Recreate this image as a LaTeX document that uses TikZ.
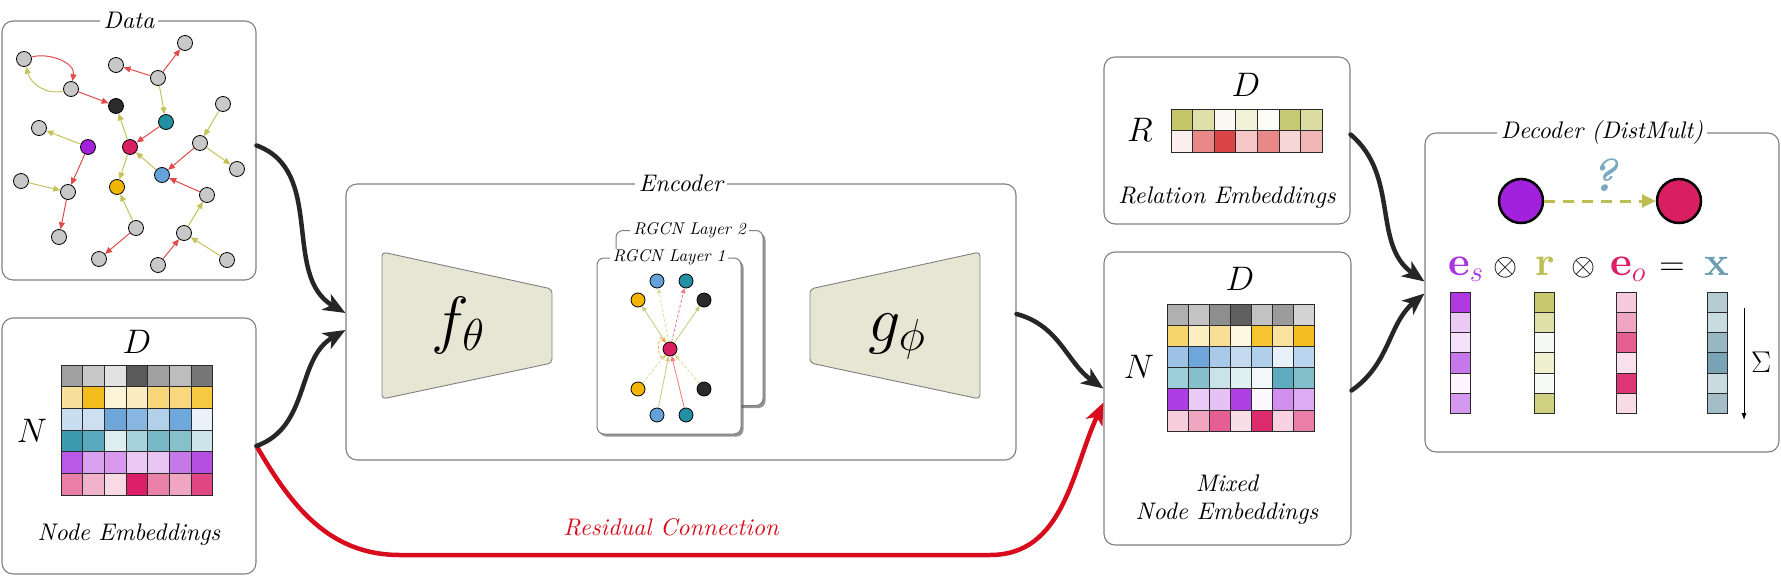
\RequirePackage{fix-cm}
\documentclass[tikz,border=0pt]{standalone}
\usepackage{amsmath}
\usepackage{fontspec}
\setmainfont{lmroman10-regular.otf}[ItalicFont=lmroman10-italic.otf, BoldFont=lmroman10-bold.otf, BoldItalicFont=lmroman10-bolditalic.otf]
\usetikzlibrary{arrows.meta,shadows,calc}

\definecolor{boxgray}{HTML}{7F7F7F}
\definecolor{cellline}{HTML}{2A2A2A}
\definecolor{trapfill}{HTML}{E5E6D3}
\definecolor{arrowblack}{HTML}{262626}
\definecolor{resred}{HTML}{D80C1C}
\definecolor{edgered}{HTML}{E04B4B}
\definecolor{edgeolive}{HTML}{C3C35A}
\definecolor{ngray}{HTML}{C8C8C8}
\definecolor{nblack}{HTML}{2B2B2B}
\definecolor{nteal}{HTML}{228FA2}
\definecolor{npurple}{HTML}{A221DC}
\definecolor{ncrimson}{HTML}{D91E62}
\definecolor{nblue}{HTML}{64A3DA}
\definecolor{nyellow}{HTML}{F2B600}
\definecolor{eqpurple}{HTML}{A834E2}
\definecolor{eqolive}{HTML}{BDBE52}
\definecolor{eqcrimson}{HTML}{DC1F64}
\definecolor{eqsteel}{HTML}{6F9DB0}
\definecolor{qblue}{HTML}{7AA8BE}
\definecolor{loopor}{HTML}{F4A53C}
\definecolor{inolive}{HTML}{C9C97E}
\definecolor{inolivel}{HTML}{DCDC96}
\definecolor{inred}{HTML}{EE7777}

\newcommand{\mxrow}[5]{\foreach \mxc [count=\mxi from 0] in {#5}{%
  \definecolor{cellc}{HTML}{\mxc}%
  \filldraw[fill=cellc,draw=cellline,line width=0.9pt] ({#1+\mxi*#3},#2) rectangle ++(#3,#4);}}
\newcommand{\mxcol}[5]{\foreach \mxc [count=\mxi from 0] in {#5}{%
  \definecolor{cellc}{HTML}{\mxc}%
  \filldraw[fill=cellc,draw=cellline,line width=0.9pt] (#1,{#2+\mxi*#4}) rectangle ++(#3,#4);}}

\tikzset{
  bigbox/.style={draw=boxgray, line width=1.1pt, rounded corners=11pt, inner sep=0pt},
  boxlabel/.style={fill=white, inner xsep=4pt, inner ysep=1pt, font=\fontsize{24}{28}\selectfont\itshape},
  plainlbl/.style={font=\fontsize{24}{28}\selectfont\itshape, inner sep=1pt},
  layerlbl/.style={fill=white, inner xsep=3pt, inner ysep=1pt, font=\fontsize{17}{20}\selectfont\itshape},
  mathlbl/.style={font=\fontsize{34}{40}\selectfont, inner sep=0pt},
  eqn/.style={font=\fontsize{41}{46}\selectfont, inner sep=0pt},
  eqop/.style={font=\fontsize{31}{36}\selectfont, inner sep=0pt},
  gn/.style={circle, draw=black, line width=0.8pt, minimum size=15pt, inner sep=0pt},
  sn/.style={circle, draw=black, line width=0.8pt, minimum size=14pt, inner sep=0pt},
  bn/.style={circle, draw=black, line width=2.5pt, minimum size=44pt, inner sep=0pt},
  redge/.style={draw=edgered, line width=1pt, -{Triangle[length=7pt,width=6pt]}},
  yedge/.style={draw=edgeolive, line width=1pt, -{Triangle[length=7pt,width=6pt]}},
  iedge/.style={line width=0.8pt, -{Triangle[length=5pt,width=4.5pt]}},
  idash/.style={dash pattern=on 3pt off 2pt},
  layerbox/.style={draw=boxgray, line width=1pt, fill=white, rounded corners=7pt, inner sep=0pt,
     drop shadow={shadow xshift=2.5pt, shadow yshift=-2.5pt, opacity=0.6, fill=black!70}},
  trap/.style={draw=boxgray, line width=0.9pt, fill=trapfill, rounded corners=4pt},
  bigarrow/.style={draw=arrowblack, line width=4.5pt, line cap=round, -{Stealth[length=22pt,width=18pt,inset=6pt]}},
  resarrow/.style={draw=resred, line width=4.5pt, line cap=round, -{Stealth[length=22pt,width=18pt,inset=6pt]}},
  qarrow/.style={draw=eqolive, line width=3pt, dash pattern=on 11pt off 8pt, -{Triangle[length=14pt,width=13pt]}}
}

\begin{document}
\begin{tikzpicture}[x=1pt,y=-1pt]
\useasboundingbox (0,0) rectangle (1781,576);

% ---------------- Data box ----------------
\node[bigbox, minimum width=254pt, minimum height=259pt] (data) at (129,150.5) {};
\node[boxlabel] (datalbl) at (data.north) {Data};

\node[gn, fill=ngray] (g1) at (24,59) {};
\node[gn, fill=ngray] (g2) at (71,89) {};
\node[gn, fill=nblack] (g3) at (116,106) {};
\node[gn, fill=ngray] (g4) at (116,65) {};
\node[gn, fill=ngray] (g5) at (158,78) {};
\node[gn, fill=ngray] (g6) at (185,43) {};
\node[gn, fill=nteal] (g7) at (166,122) {};
\node[gn, fill=ngray] (g8) at (223,104) {};
\node[gn, fill=ngray] (g9) at (39,128) {};
\node[gn, fill=npurple] (g10) at (88,147) {};
\node[gn, fill=ncrimson] (g11) at (130,147) {};
\node[gn, fill=ngray] (g12) at (200,143) {};
\node[gn, fill=nblue] (g13) at (162,175) {};
\node[gn, fill=ngray] (g14) at (237,169) {};
\node[gn, fill=ngray] (g15) at (21,181) {};
\node[gn, fill=ngray] (g16) at (68,192) {};
\node[gn, fill=nyellow] (g17) at (117,187) {};
\node[gn, fill=ngray] (g18) at (207,195) {};
\node[gn, fill=ngray] (g19) at (59,237) {};
\node[gn, fill=ngray] (g20) at (136,228) {};
\node[gn, fill=ngray] (g21) at (184,233) {};
\node[gn, fill=ngray] (g22) at (99,259) {};
\node[gn, fill=ngray] (g23) at (158,265) {};
\node[gn, fill=ngray] (g24) at (227,260) {};

\draw[redge] (g1) to[out=15,in=80] (g2);
\draw[yedge] (g2) to[out=195,in=-75] (g1);
\draw[redge] (g2) -- (g3);
\draw[redge] (g5) -- (g4);
\draw[redge] (g5) -- (g6);
\draw[yedge] (g5) -- (g7);
\draw[redge] (g7) -- (g11);
\draw[yedge] (g11) -- (g3);
\draw[yedge] (g10) -- (g9);
\draw[redge] (g10) -- (g16);
\draw[yedge] (g15) -- (g16);
\draw[redge] (g16) -- (g19);
\draw[yedge] (g11) -- (g17);
\draw[yedge] (g13) -- (g11);
\draw[yedge] (g8) -- (g12);
\draw[yedge] (g12) -- (g14);
\draw[redge] (g12) -- (g13);
\draw[redge] (g18) -- (g13);
\draw[yedge] (g20) -- (g17);
\draw[redge] (g20) -- (g22);
\draw[yedge] (g21) -- (g18);
\draw[redge] (g23) -- (g21);
\draw[yedge] (g24) -- (g21);

% ---------------- Node embeddings box ----------------
\node[bigbox, minimum width=254pt, minimum height=256pt] (ne) at (129,446) {};
\node[mathlbl] (neD) at (137,342) {$D$};
\node[mathlbl] (neN) at (32,431) {$N$};
\mxrow{61}{365}{21.7}{21.7}{A0A0A0,C8C8C8,E2E2E2,5A5A5A,A0A0A0,BDBDBD,777777}
\mxrow{61}{386.7}{21.7}{21.7}{F9E09A,F4BC1C,FDF3D6,FBECC2,F8D67A,F8D77E,F5C942}
\mxrow{61}{408.4}{21.7}{21.7}{C9DDF0,CDE0F1,6FA6DA,87B7E1,B3D0EA,6FA8DC,EAF1F9}
\mxrow{61}{430.1}{21.7}{21.7}{3B9AB0,5AAABD,DDEDF0,A7D1DC,79B8C6,86C0CB,CDE5EA}
\mxrow{61}{451.8}{21.7}{21.7}{B95AE6,D8A0EF,D898EE,ECC8F4,E8C4F4,C678EA,B550E2}
\mxrow{61}{473.5}{21.7}{21.7}{E97EA6,F1B3CB,F8D9E4,DC1F68,EA82A8,F0A6C1,E04682}
\node[plainlbl] (nelbl) at (129,535) {Node Embeddings};

% ---------------- Encoder ----------------
\node[bigbox, minimum width=670pt, minimum height=276pt] (enc) at (681,322) {};
\node[boxlabel] (enclbl) at (enc.north) {Encoder};

\draw[trap] (382,252) -- (552,289) -- (552,363) -- (382,399) -- cycle;
\node[font=\fontsize{64}{74}\selectfont, inner sep=0pt, anchor=base] (flbl) at (458,341) {$f_\theta$};
\draw[trap] (810,289) -- (980,252) -- (980,399) -- (810,363) -- cycle;
\node[font=\fontsize{64}{74}\selectfont, inner sep=0pt, anchor=base] (glbl) at (897,341) {$g_\phi$};

\node[layerbox, minimum width=147pt, minimum height=175pt] (lay2) at (689.5,318) {};
\node[layerlbl] (lay2lbl) at (lay2.north) {RGCN Layer 2};
\node[layerbox, minimum width=144pt, minimum height=176pt] (lay1) at (669,346) {};
\node[layerlbl] (lay1lbl) at (lay1.north) {RGCN Layer 1};

\node[sn, fill=nblue] (rb1) at (657,281) {};
\node[sn, fill=nteal] (rt1) at (686,281) {};
\node[sn, fill=nyellow] (ry1) at (638,300) {};
\node[sn, fill=nblack] (rk1) at (704,300) {};
\node[sn, fill=ncrimson] (rc) at (670,349) {};
\node[sn, fill=nyellow] (ry2) at (638,389) {};
\node[sn, fill=nblack] (rk2) at (704,389) {};
\node[sn, fill=nblue] (rb2) at (657,415) {};
\node[sn, fill=nteal] (rt2) at (686,415) {};

\draw[iedge, draw=inolive] (rc) -- (ry1);
\draw[iedge, idash, draw=inolivel] (rc) -- (rb1);
\draw[iedge, idash, draw=inred] (rc) -- (rt1);
\draw[iedge, draw=inolive] (rc) -- (rk1);
\draw[iedge, idash, draw=inolivel] (ry2) -- (rc);
\draw[iedge, draw=inolive] (rb2) -- (rc);
\draw[iedge, draw=inred] (rt2) -- (rc);
\draw[iedge, idash, draw=inolivel] (rk2) -- (rc);
\draw[iedge, idash, draw=loopor] (rc) to[out=235,in=125,min distance=16pt] (rc);

% ---------------- Relation embeddings ----------------
\node[bigbox, minimum width=246pt, minimum height=167pt] (rel) at (1227,140.5) {};
\node[mathlbl] (relD) at (1246,85) {$D$};
\node[mathlbl] (relR) at (1140,130) {$R$};
\mxrow{1171}{109}{21.6}{21.5}{C5C66A,DFDFAA,FAFAF2,F2F2D8,FCFCF6,C8C974,DADCA2}
\mxrow{1171}{130.5}{21.6}{21.5}{FBEEEE,E88888,DB4545,F4C6C6,E88888,F7D6D6,F0B5B5}
\node[plainlbl] (rellbl) at (1227,198) {Relation Embeddings};

% ---------------- Mixed node embeddings ----------------
\node[bigbox, minimum width=247pt, minimum height=293pt] (mix) at (1227.5,398.5) {};
\node[mathlbl] (mixD) at (1240,279) {$D$};
\node[mathlbl] (mixN) at (1139,367) {$N$};
\mxrow{1167}{304}{21}{21.2}{B0B0B0,C4C4C4,8E8E8E,5F5F5F,C2C2C2,9B9B9B,D3D3D3}
\mxrow{1167}{325.2}{21}{21.2}{F6D56E,FBEEC0,F9DF95,FEF7E0,F5C430,F9E29D,F4BE20}
\mxrow{1167}{346.4}{21}{21.2}{9DC2E5,6EA5DA,A8C9E8,C3DAF0,B0CFEA,E8F0F9,BAD5EE}
\mxrow{1167}{367.6}{21}{21.2}{9CCFD9,85BFCB,C9E3E8,E0EFF2,F2F8F9,5EAABE,80BFCA}
\mxrow{1167}{388.8}{21}{21.2}{AD3EE6,EACAF6,E6C1F4,AE40E3,FDF8FE,D08FEE,DDAAF3}
\mxrow{1167}{410}{21}{21.2}{F6CDDB,F0A6C1,E55F94,F9DDE7,DC2B6C,F8D2E0,E97EA6}
\node[plainlbl, align=center] (mixlbl) at (1227,500) {Mixed\\Node Embeddings};

% ---------------- Decoder ----------------
\node[bigbox, minimum width=354pt, minimum height=319pt] (dec) at (1602,292.5) {};
\node[boxlabel] (declbl) at (dec.north) {Decoder (DistMult)};
\node[bn, fill=npurple] (ps) at (1521,201) {};
\node[bn, fill=ncrimson] (po) at (1679,201) {};
\draw[qarrow] (ps) -- (po);
\node[font=\fontsize{46}{52}\selectfont\bfseries\itshape, text=qblue, inner sep=0pt] (qm) at (1604,175) {?};

\node[eqn, text=eqpurple, anchor=base] (es) at (1466,275) {$\mathbf{e}_{s}$};
\node[eqop, anchor=base] (ot1) at (1506,275) {$\otimes$};
\node[eqn, text=eqolive, anchor=base] (rr) at (1545,275) {$\mathbf{r}$};
\node[eqop, anchor=base] (ot2) at (1584,275) {$\otimes$};
\node[eqn, text=eqcrimson, anchor=base] (eo) at (1628,275) {$\mathbf{e}_{o}$};
\node[eqop, font=\fontsize{35}{40}\selectfont, anchor=base] (eqs) at (1672,275) {$=$};
\node[eqn, text=eqsteel, anchor=base] (xx) at (1717,275) {$\mathbf{x}$};

\mxcol{1450}{292}{20}{20.3}{B03AE0,EBC9F5,F3E2FA,C678EA,FCF5FD,D498EE}
\mxcol{1534}{292}{20}{20.3}{C8C96C,DFE0A8,F5F8F4,EEF0D0,F7FAF7,CFD080}
\mxcol{1616}{292}{20}{20.3}{F6CADB,F0A6C1,E5608F,FAE0EA,DE3575,F9DBE6}
\mxcol{1707}{292}{20}{20.3}{B5CCD4,C8DBE1,98B7C3,7AA3B5,C9DAE0,A3BDC9}

\coordinate (sgt) at (1744,308);
\coordinate (sgb) at (1744,420);
\draw[line width=0.8pt, -{Latex[length=7pt,width=5pt]}] (sgt) -- (sgb);
\node[font=\fontsize{30}{36}\selectfont, inner sep=0pt] (sig) at (1761,362) {$\Sigma$};

% ---------------- Big connectors ----------------
\coordinate (resA) at (400,555);
\coordinate (resB) at (990,555);
\draw[resarrow] (ne.east) to[out=-60,in=180] (resA) -- (resB) to[out=0,in=-115] ($(mix.west)+(0,4)$);
\node[font=\fontsize{24}{28}\selectfont\itshape, text=resred, inner sep=1pt] (reslbl) at (671,527) {Residual Connection};

\draw[bigarrow] ($(data.east)+(0,-5)$) to[out=-20,in=150] ($(enc.west)+(0,-9)$);
\draw[bigarrow] (ne.east) to[out=20,in=-150] ($(enc.west)+(0,8)$);
\draw[bigarrow] ($(enc.east)+(0,-8)$) to[out=-15,in=145] ($(mix.west)+(0,-10)$);
\draw[bigarrow] ($(rel.east)+(0,-6)$) to[out=-40,in=145] ($(dec.west)+(0,-11)$);
\draw[bigarrow] ($(mix.east)+(0,-8)$) to[out=35,in=-140] ($(dec.west)+(0,1)$);

\end{tikzpicture}
\end{document}
